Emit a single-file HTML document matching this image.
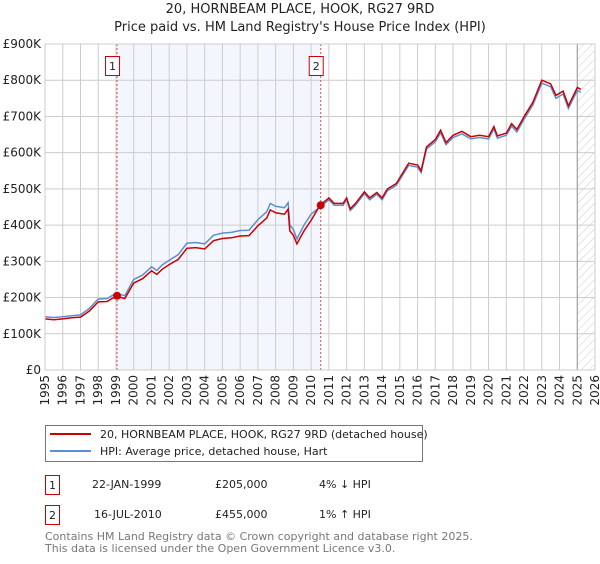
<!DOCTYPE html>
<html><head><meta charset="utf-8"><style>
body{margin:0;background:#fff;font-family:"DejaVu Sans","Liberation Sans",sans-serif;}
svg text{font-family:"DejaVu Sans","Liberation Sans",sans-serif;}
</style></head><body>
<svg id="c" width="600" height="560" xmlns="http://www.w3.org/2000/svg">
<defs><pattern id="hatch" width="6" height="6" patternUnits="userSpaceOnUse" patternTransform="rotate(45)"><line x1="0" y1="0" x2="0" y2="6" stroke="#ccc" stroke-width="1"/></pattern></defs>
<text x="300" y="13" text-anchor="middle" font-size="13" fill="#222">20, HORNBEAM PLACE, HOOK, RG27 9RD</text>
<text x="300" y="31" text-anchor="middle" font-size="13" fill="#222">Price paid vs. HM Land Registry's House Price Index (HPI)</text>
<g id="plot"></g>
<g>
<rect x="45.5" y="425.5" width="377" height="36" fill="#fff" stroke="#777"/>
<line x1="50" y1="434" x2="91" y2="434" stroke="#cc0000" stroke-width="2"/>
<text x="100" y="438" font-size="11" fill="#222">20, HORNBEAM PLACE, HOOK, RG27 9RD (detached house)</text>
<line x1="50" y1="451" x2="91" y2="451" stroke="#5b8fd0" stroke-width="2"/>
<text x="100" y="455" font-size="11" fill="#222">HPI: Average price, detached house, Hart</text>
</g>
<g font-size="11" fill="#222">
<rect x="45.5" y="475.5" width="14" height="19" fill="#fff" stroke="#cc0000"/>
<text x="52.5" y="489" text-anchor="middle">1</text>
<text x="92" y="488">22-JAN-1999</text>
<text x="215" y="488">£205,000</text>
<text x="319" y="488">4% ↓ HPI</text>
<rect x="45.5" y="505.5" width="14" height="19" fill="#fff" stroke="#cc0000"/>
<text x="52.5" y="519" text-anchor="middle">2</text>
<text x="94" y="518">16-JUL-2010</text>
<text x="215" y="518">£455,000</text>
<text x="319" y="518">1% ↑ HPI</text>
</g>
<text x="45" y="540" font-size="11" fill="#777">Contains HM Land Registry data © Crown copyright and database right 2025.</text>
<text x="45" y="552" font-size="11" fill="#777">This data is licensed under the Open Government Licence v3.0.</text>
</svg>
<script>
const times=[1995,1995.5,1996,1996.5,1997,1997.5,1998,1998.5,1999,1999.5,2000,2000.5,2001,2001.3,2001.6,2002,2002.5,2003,2003.5,2004,2004.5,2005,2005.5,2006,2006.5,2007,2007.5,2007.7,2008,2008.5,2008.7,2008.8,2009,2009.2,2009.6,2010,2010.5,2011,2011.3,2011.8,2012,2012.2,2012.5,2013,2013.3,2013.7,2014,2014.3,2014.8,2015.5,2016,2016.2,2016.5,2017,2017.3,2017.6,2018,2018.5,2019,2019.5,2020,2020.3,2020.5,2021,2021.3,2021.6,2022,2022.5,2023,2023.5,2023.8,2024.2,2024.5,2024.7,2025,2025.2];
const hpiValues=[147,145,147,150,152,170,196,197,212,205,250,262,285,275,290,303,318,350,352,348,372,378,380,385,386,415,437,460,452,448,462,400,388,362,400,430,450,470,455,455,470,440,455,487,470,485,470,495,510,565,560,545,610,630,655,622,642,652,638,642,638,665,640,648,673,657,692,732,792,782,750,762,722,742,772,767];
const priceValues=[141,139,141,144,146,163,188,189,204,197,240,252,274,264,278,291,305,336,338,334,357,363,365,370,371,398,420,442,434,430,444,384,372,348,384,413,455,475,460,460,475,445,460,492,475,490,475,500,515,571,566,550,616,636,662,628,648,659,644,648,644,672,646,654,680,664,699,739,800,790,758,770,729,749,780,775];
const yTicks=[0,100,200,300,400,500,600,700,800,900];
const yTickLabels=["£0","£100K","£200K","£300K","£400K","£500K","£600K","£700K","£800K","£900K"];
const xYears=[1995,1996,1997,1998,1999,2000,2001,2002,2003,2004,2005,2006,2007,2008,2009,2010,2011,2012,2013,2014,2015,2016,2017,2018,2019,2020,2021,2022,2023,2024,2025,2026];
const saleTimes=[1999.06,2010.54];
const salePrices=[205,455];
const saleLabels=["1","2"];
const X0=45,X1=595,Y0=370,Y1=44;
const x=t=>X0+(t-1995)/(2026-1995)*(X1-X0);
const y=v=>Y0-v/900*(Y0-Y1);
const NS="http://www.w3.org/2000/svg";
const g=document.getElementById('plot');
function mk(tag,attrs,parent){const e=document.createElementNS(NS,tag);for(const k in attrs)e.setAttribute(k,attrs[k]);(parent||g).appendChild(e);return e;}
let e;
e=mk('rect',{x:x(saleTimes[0]),y:Y1,width:x(saleTimes[1])-x(saleTimes[0]),height:Y0-Y1,fill:'#eef3fc',opacity:0.7});


e=mk('rect',{x:x(2025),y:Y1,width:X1-x(2025),height:Y0-Y1,fill:'url(#hatch)'});


yTicks.forEach((v,i)=>{
 e=mk('line',{x1:X0,x2:X1,y1:y(v),y2:y(v),stroke:'#ccc','stroke-width':1});
 
 
 e=mk('text',{x:X0-4,y:y(v)+4,'text-anchor':'end','font-size':12,fill:'#222'});
 e.textContent=yTickLabels[i];
 
 
});
xYears.forEach(yr=>{
 e=mk('line',{x1:x(yr),x2:x(yr),y1:Y1,y2:Y0,stroke:'#ccc','stroke-width':1});
 
 
 e=mk('text',{x:0,y:0,'font-size':12,fill:'#222','text-anchor':'end',transform:`translate(${x(yr)+4},${Y0+5}) rotate(-90)`});
 e.textContent=yr;
 
 
});
e=mk('line',{x1:x(2025),x2:x(2025),y1:Y1,y2:Y0,stroke:'#999','stroke-width':1});


saleTimes.forEach((t,i)=>{
 e=mk('line',{x1:x(t),x2:x(t),y1:Y1,y2:Y0,stroke:'#e05050','stroke-width':1,'stroke-dasharray':'2,2'});
 
 
 e=mk('rect',{x:x(t)-11.5,y:56.5,width:14,height:19,fill:'#fff',stroke:'#cc0000'});
 
 
 e=mk('text',{x:x(t)-4.5,y:70,'text-anchor':'middle','font-size':11,fill:'#222'});
 e.textContent=saleLabels[i];
 
 
});
const pts=a=>a.map((v,i)=>x(times[i]).toFixed(1)+','+y(v).toFixed(1)).join(' ');
e=mk('polyline',{points:pts(hpiValues),fill:'none',stroke:'#5b8fd0','stroke-width':1.5});


e=mk('polyline',{points:pts(priceValues),fill:'none',stroke:'#cc0000','stroke-width':1.5});


saleTimes.forEach((t,i)=>{
 e=mk('circle',{cx:x(t),cy:y(salePrices[i]),r:4,fill:'#cc0000'});
 
 
});
e=mk('rect',{x:X0,y:Y1,width:X1-X0,height:Y0-Y1,fill:'none',stroke:'#ccc'});


</script>
</body></html>
